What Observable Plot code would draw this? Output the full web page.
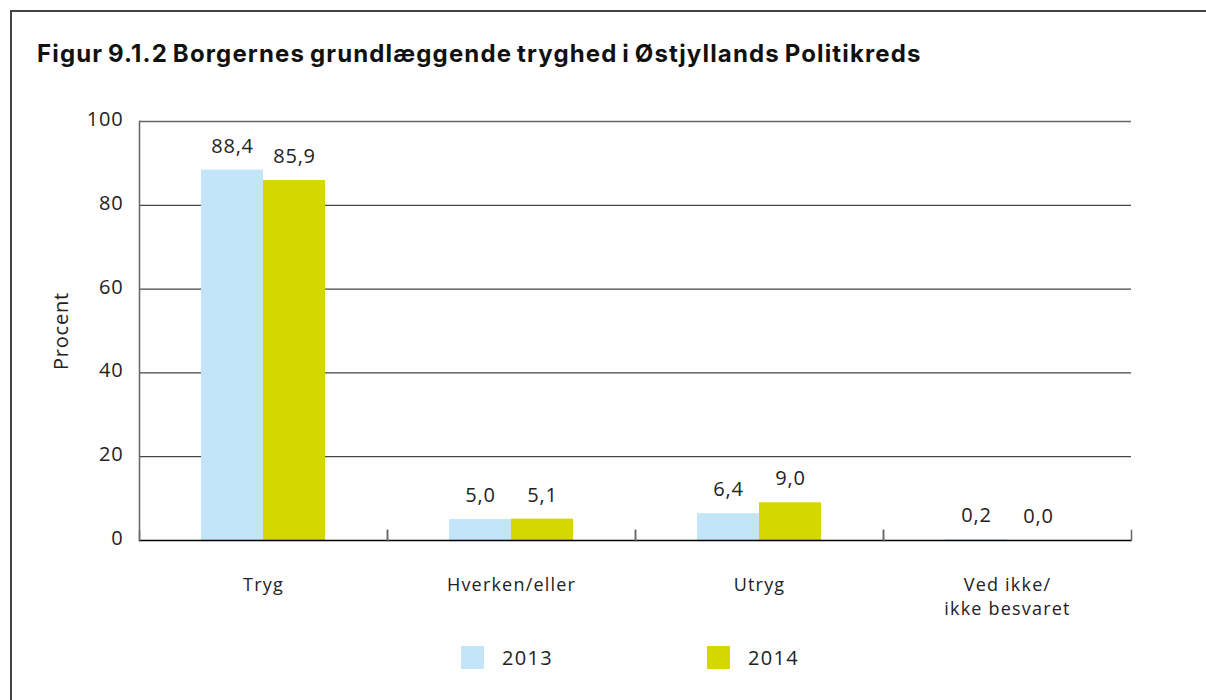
<!DOCTYPE html>
<html>
<head>
<meta charset="utf-8">
<script src="https://cdn.jsdelivr.net/npm/d3@7"></script>
<script src="https://cdn.jsdelivr.net/npm/@observablehq/plot@0.6"></script>
<style>
  html, body { margin: 0; padding: 0; background: #fff; }
  body { width: 1206px; height: 700px; position: relative; overflow: hidden; font-family: "Open Sans", sans-serif; }
  #border { position: absolute; left: 10px; top: 10px; right: -5px; bottom: -5px; border-top: 2px solid #444; border-left: 2px solid #444; pointer-events: none; }
  #title { position: absolute; left: 37px; top: 39px; font-family: Inter, sans-serif; font-weight: 700; font-size: 24px; color: #111; white-space: nowrap; letter-spacing: 1.15px; word-spacing: -2px; }
  #chart { position: absolute; left: 0; top: 90px; }
  #legend { position: absolute; left: 461px; top: 644px; display: flex; align-items: center; font-family: "Open Sans", sans-serif; font-size: 20px; letter-spacing: 1.3px; color: #222; }
  .item { display: flex; align-items: center; }
  .sw { width: 23px; height: 23px; margin-right: 18px; }
</style>
</head>
<body>
<div id="border"></div>
<div id="title"></div>
<div id="chart"></div>
<div id="legend"></div>
<script>
const titleText = "Figur 9.1.2  Borgernes grundlæggende tryghed i Østjyllands Politikreds";
const categories = ["Tryg", "Hverken/eller", "Utryg", "Ved ikke/ikke besvaret"];
const categoryLabels = ["Tryg", "Hverken/eller", "Utryg", "Ved ikke/\nikke besvaret"];
const years = ["2013", "2014"];
const values2013 = [88.4, 5.0, 6.4, 0.2];
const values2014 = [85.9, 5.1, 9.0, 0.0];
const colors = ["#C3E5F9", "#D4D700"];
const yTicks = [0, 20, 40, 60, 80, 100];
const gridTicks = [20, 40, 60, 80];
const yLabel = "Procent";

document.getElementById("title").textContent = titleText;

const data = [];
categories.forEach((c, i) => {
  data.push({cat: c, year: years[0], value: values2013[i]});
  data.push({cat: c, year: years[1], value: values2014[i]});
});
const fmt = v => v.toFixed(1).replace(".", ",");
const labelOf = c => categoryLabels[categories.indexOf(c)];

const H = 540, MT = 31, MB = 90;
const innerH = H - MT - MB;

const chart = Plot.plot({
  width: 1206,
  height: H,
  marginTop: MT,
  marginBottom: MB,
  marginLeft: 138,
  marginRight: 75,
  style: {fontFamily: "'Open Sans', sans-serif", fontSize: "20px", color: "#222", background: "transparent"},
  fx: {domain: categories, padding: 0, axis: null},
  x: {domain: years, paddingInner: 0, paddingOuter: 1, axis: null},
  y: {domain: [0, 100], axis: null},
  color: {domain: years, range: colors},
  marks: [
    Plot.ruleY(gridTicks, {stroke: "#1a1a1a", strokeWidth: 1}),
    Plot.ruleY([100], {stroke: "#666", strokeWidth: 1.5}),
    Plot.barY(data, {fx: "cat", x: "year", y: "value", fill: "year"}),
    Plot.ruleY([0], {stroke: "#000", strokeWidth: 1.6}),
    Plot.frame({anchor: "left", stroke: "#666", strokeWidth: 1.5, insetTop: innerH - 10}),
    Plot.frame({anchor: "right", stroke: "#666", strokeWidth: 1.5, insetTop: innerH - 10}),
    Plot.frame({anchor: "left", stroke: "#666", strokeWidth: 1.5, facetAnchor: "left"}),
    Plot.text(data, {fx: "cat", x: "year", y: "value", text: d => fmt(d.value), dy: -24, fill: "#222", fontSize: 20}),
    Plot.axisY(yTicks, {tickSize: 0, tickPadding: 16, fontSize: 20, dy: -2, label: yLabel, labelAnchor: "center", labelArrow: "none", labelOffset: 86, fill: "#222"}),
    Plot.axisFx({anchor: "bottom", tickSize: 0, tickPadding: 33, fontSize: 18, lineHeight: 1.36, tickFormat: labelOf, label: null, fill: "#222", className: "cat-axis"})
  ]
});
chart.querySelectorAll("text").forEach(t => t.style.letterSpacing = "0.8px");
chart.querySelectorAll(".cat-axis text").forEach(t => t.style.letterSpacing = "1.2px");
document.getElementById("chart").appendChild(chart);

const legend = document.getElementById("legend");
years.forEach((y, i) => {
  const item = document.createElement("div");
  item.className = "item";
  if (i > 0) item.style.marginLeft = "154px";
  const sw = document.createElement("div");
  sw.className = "sw";
  sw.style.background = colors[i];
  const t = document.createElement("span");
  t.textContent = y;
  item.appendChild(sw);
  item.appendChild(t);
  legend.appendChild(item);
});
</script>
</body>
</html>
